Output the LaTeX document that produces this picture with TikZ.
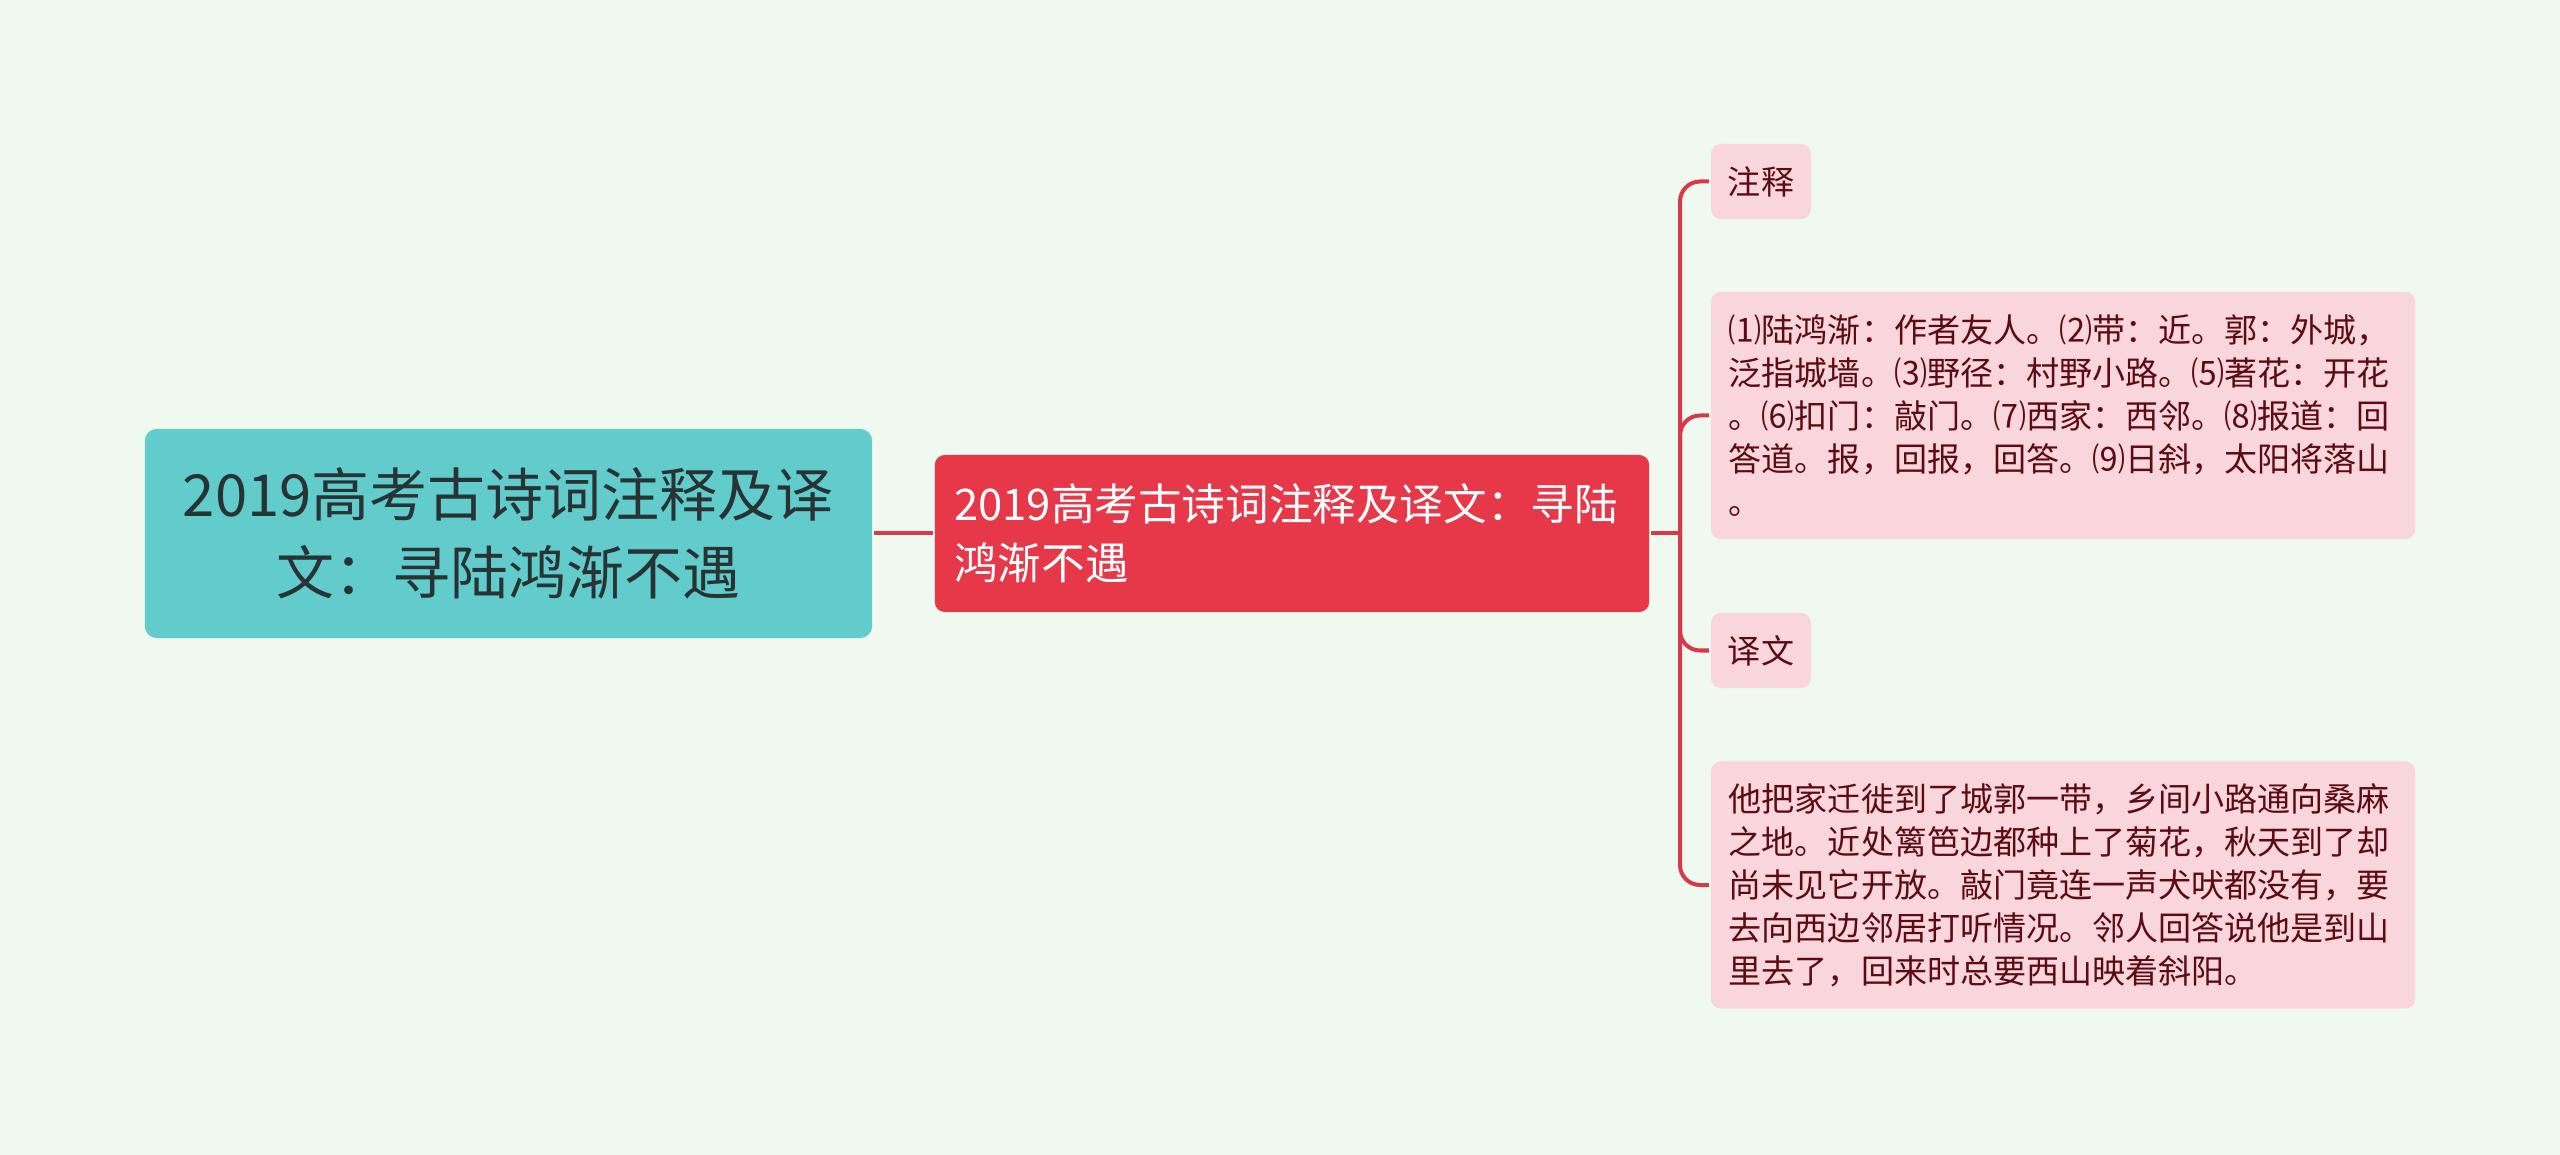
\documentclass[tikz,border=0pt]{standalone}
\usepackage{fontspec}
\setmainfont{Noto Sans CJK SC}
\usetikzlibrary{positioning, calc}
\definecolor{cbg}{HTML}{F0F9EF}
\definecolor{cteal}{HTML}{62CCCC}
\definecolor{cred}{HTML}{E63848}
\definecolor{clink}{HTML}{D63A48}
\definecolor{cpink}{HTML}{F9D6DB}
\definecolor{cdark}{HTML}{5C0A14}
\definecolor{cink}{HTML}{283434}
\tikzset{
  every picture/.style={line width=0.04cm},
  rootbox/.style={fill=cteal, text=cink, rounded corners=0.12cm, align=center,
    minimum width=7.27cm, minimum height=2.09cm, inner sep=0pt,
    font=\fontsize{16.5}{22.2}\selectfont},
  mainbox/.style={fill=cred, text=white, rounded corners=0.1cm, align=left,
    text width=6.75cm, inner xsep=0.195cm, inner ysep=0pt, minimum height=1.57cm,
    font=\fontsize{12.4}{16.8}\selectfont},
  leaf/.style={fill=cpink, text=cdark, rounded corners=0.1cm, align=left,
    inner sep=0pt, font=\fontsize{9.4}{12.2}\selectfont},
  tag/.style={leaf, minimum width=1.0cm, minimum height=0.75cm},
  para/.style={leaf, text width=6.68cm, inner xsep=0.18cm, minimum height=2.47cm},
  link/.style={draw=clink, line width=0.04cm},
}
\begin{document}
\begin{tikzpicture}[x=0.01cm, y=-0.01cm]
  \fill[cbg] (0,0) rectangle (2560,1155);
  \useasboundingbox (0,0) rectangle (2560,1155);
  % centre topic and first branch
  \node[rootbox] (root) at (508.5,533.5) {2019高考古诗词注释及译\\文：寻陆鸿渐不遇};
  \node[mainbox] (main) at (1292,533.5) {2019高考古诗词注释及译文：寻陆\\鸿渐不遇};
  % leaves
  \node[tag] (zs) at (1761,181.5) {注释};
  \node[para] (notes) at (2063,415.5) {⑴陆鸿渐：作者友人。⑵带：近。郭：外城，\\泛指城墙。⑶野径：村野小路。⑸著花：开花\\。⑹扣门：敲门。⑺西家：西邻。⑻报道：回\\答道。报，回报，回答。⑼日斜，太阳将落山\\。};
  \node[tag] (yw) at (1761,650.5) {译文};
  \node[para] (trans) at (2063,885) {他把家迁徙到了城郭一带，乡间小路通向桑麻\\之地。近处篱笆边都种上了菊花，秋天到了却\\尚未见它开放。敲门竟连一声犬吠都没有，要\\去向西边邻居打听情况。邻人回答说他是到山\\里去了，回来时总要西山映着斜阳。};
  % connectors
  \coordinate (hub) at (1680,533.5);
  \draw[link] (root.east) -- (main.west);
  \draw[link] (main.east) -- (hub);
  \foreach \n in {zs, notes, yw, trans}
    \draw[link, rounded corners=0.2cm] (hub) |- (\n.west);
\end{tikzpicture}
\end{document}
